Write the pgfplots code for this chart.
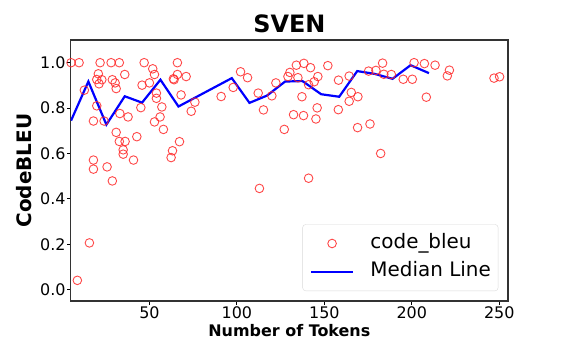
\documentclass[border=0pt]{standalone}
\usepackage{fontspec}
\setmainfont{DejaVu Sans}
\usepackage{pgfplots}
\pgfplotsset{compat=1.18}
\definecolor{ptred}{RGB}{255,40,40}
\definecolor{medblue}{RGB}{0,0,255}
\definecolor{frame}{RGB}{51,51,51}
\pgfplotsset{
    markleg/.style={legend image code/.code={\draw[mark repeat=2,mark phase=2,##1] plot coordinates {(0bp,0bp)(21bp,0bp)(42bp,0bp)};}},
    lineleg/.style={legend image code/.code={\draw[##1] (0bp,0bp) -- (42bp,0bp);}},
}

\begin{document}
\begin{tikzpicture}
\begin{axis}[
    at={(0,0)}, anchor=south west,
    scale only axis,
    width=437.3bp, height=261bp,
    xmin=5, xmax=255,
    ymin=-0.05, ymax=1.1,
    xtick={50,100,150,200,250},
    ytick={0,0.2,0.4,0.6,0.8,1.0},
    yticklabel style={/pgf/number format/.cd, fixed, fixed zerofill, precision=1},
    /pgf/number format/assume math mode=true,
    tick pos=left,
    tick align=outside,
    major tick length=3.5bp,
    tick style={black, line width=0.8bp},
    axis line style={frame, line width=1.1bp},
    ticklabel style={font=\fontsize{16}{19}\selectfont, inner sep=1.5bp},
    title={\bfseries SVEN},
    title style={font=\fontsize{24}{28}\selectfont, at={(axis description cs:0.5,1)}, anchor=base, yshift=2bp},
    xlabel={\bfseries Number of Tokens},
    xlabel style={font=\fontsize{16}{19}\selectfont, at={(axis description cs:0.5,0)}, anchor=base, yshift=-35bp},
    ylabel={\bfseries CodeBLEU},
    ylabel style={font=\fontsize{20}{24}\selectfont, at={(axis description cs:-0.1068,0.5)}, anchor=center},
    legend style={at={(axis description cs:1,0)}, anchor=south east,
        xshift=-9.7bp, yshift=10bp,
        draw=black!15, rounded corners=3bp,
        font=\fontsize{20}{24}\selectfont,
        inner xsep=7.3bp, inner ysep=9.5bp, row sep=9.3bp,
        nodes={inner sep=0bp, text height=14.5bp, text depth=4.5bp},
        /tikz/every odd column/.append style={column sep=16.3bp}},
    legend cell align=left,
]
\addplot[only marks, mark=o, mark size=4.3bp, draw=ptred, draw opacity=0.85, line width=0.9bp, markleg]
coordinates {
(5.2,1.0) (9.8,1.0) (21.8,1.0) (28.1,1.0) (32.8,1.0) (47,1.0) (51.9,0.973) (52.9,0.948)
(66,1.0) (20.8,0.951) (19.9,0.926) (22.8,0.925) (21.2,0.907) (28.8,0.925) (30.4,0.911)
(31,0.886) (35.9,0.948) (12.8,0.879) (45.8,0.901) (50,0.911) (19.9,0.810) (18,0.743)
(24.1,0.743) (33.1,0.776) (37.8,0.761) (45.1,0.802) (54,0.866) (54,0.843) (57.1,0.805)
(56.1,0.761) (52.9,0.739) (58,0.706) (31,0.693) (32.8,0.653) (36.1,0.653) (35,0.616)
(35,0.597) (42.8,0.674) (40.9,0.571) (18,0.571) (18,0.531) (25.8,0.541) (28.8,0.479)
(63.2,0.612) (62.4,0.582) (66,0.948) (71,0.939) (63.7,0.929) (64.1,0.925) (68.1,0.858)
(76,0.826) (73.9,0.786) (91,0.851) (102.1,0.960) (106.1,0.934) (97.9,0.891) (112.2,0.866)
(120,0.854) (122.3,0.911) (115.2,0.792) (67.2,0.652) (112.9,0.446) (129.2,0.939)
(130.3,0.957) (134,0.989) (138.3,0.997) (142.1,0.978) (134.9,0.934) (146.3,0.939)
(144.2,0.916) (141,0.903) (152,0.987) (158.1,0.923) (164.2,0.941) (137.2,0.850)
(132.4,0.771) (138.1,0.767) (145.9,0.801) (145.2,0.752) (127.1,0.706) (158,0.793)
(165.4,0.869) (164.2,0.830) (169.2,0.850) (169,0.714) (176.1,0.730) (182.2,0.600)
(141,0.491) (175.3,0.963) (179.5,0.966) (183.3,0.998) (184,0.949) (188.3,0.948)
(201.3,1.0) (207.2,0.996) (213.3,0.989) (221.5,0.967) (220.3,0.942) (195.1,0.927)
(200.3,0.927) (208.3,0.848) (247,0.932) (250.2,0.938) (8.8,0.041) (15.7,0.206)
};
\addlegendentry{code\_bleu}
\addplot[medblue, line width=2.2bp, mark=none, lineleg]
coordinates {
(5.2,0.745) (15.1,0.917) (25.4,0.727) (35.9,0.852) (45.8,0.824) (56.3,0.925)
(66.6,0.807) (97.1,0.932) (107.2,0.823) (117.2,0.855) (127.6,0.917) (137.5,0.919)
(148.2,0.861) (158.5,0.850) (168.8,0.963) (178.6,0.951) (189,0.929) (199.3,0.989)
(209.8,0.954)
};
\addlegendentry{Median Line}
\end{axis}
\pgfresetboundingbox
\path[use as bounding box] (-70.7bp,-38bp) rectangle (494.3bp,301bp);
\end{tikzpicture}
\end{document}
